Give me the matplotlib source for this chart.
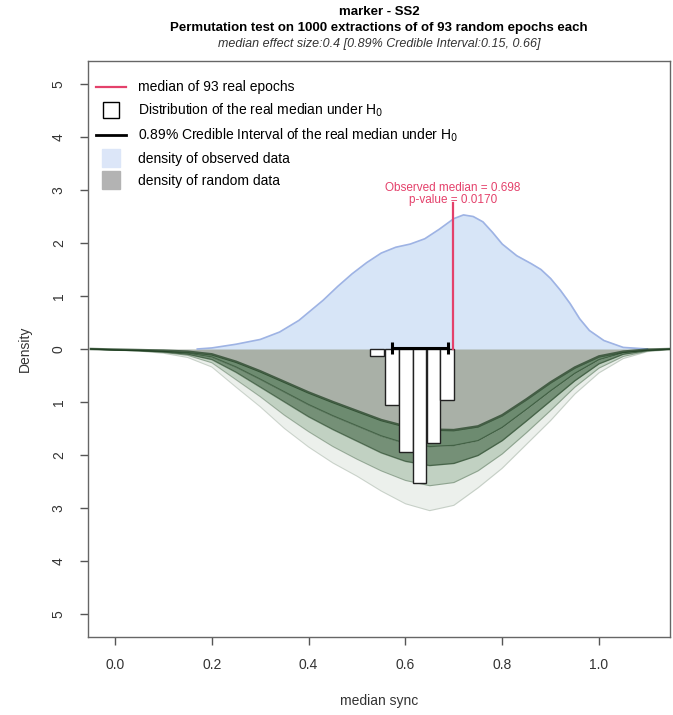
import numpy as np
import matplotlib
matplotlib.use("Agg")
import matplotlib.pyplot as plt
from matplotlib.lines import Line2D

plt.rcParams['font.family'] = ['Liberation Sans', 'DejaVu Sans']

# observed data density (upper half)
obs_x = [0.17, 0.20, 0.25, 0.30, 0.34, 0.38, 0.43, 0.46, 0.49, 0.52, 0.55, 0.58, 0.61,
         0.64, 0.67, 0.70, 0.72, 0.74, 0.76, 0.78, 0.80, 0.83, 0.86, 0.88, 0.90, 0.92,
         0.94, 0.96, 0.98, 1.01, 1.05, 1.10]
obs_dens = [0.00, 0.02, 0.09, 0.18, 0.32, 0.54, 0.92, 1.18, 1.42, 1.63, 1.81, 1.92, 1.98,
            2.08, 2.26, 2.46, 2.53, 2.50, 2.40, 2.20, 1.98, 1.76, 1.61, 1.50, 1.33, 1.11,
            0.86, 0.57, 0.35, 0.16, 0.03, 0.00]

# random data densities (drawn downwards), read as a band of curves
rand_x = [-0.05, 0.0, 0.05, 0.10, 0.15, 0.20, 0.25, 0.30, 0.35, 0.40, 0.45, 0.50, 0.55,
          0.60, 0.65, 0.70, 0.75, 0.80, 0.85, 0.90, 0.95, 1.00, 1.05, 1.10, 1.15]
rand_top = [0.00, 0.01, 0.02, 0.03, 0.05, 0.10, 0.24, 0.42, 0.62, 0.82, 1.00, 1.17, 1.34,
            1.46, 1.52, 1.53, 1.46, 1.25, 0.95, 0.63, 0.35, 0.14, 0.05, 0.01, 0.00]
rand_q1 = [0.00, 0.015, 0.025, 0.045, 0.08, 0.15, 0.34, 0.57, 0.81, 1.05, 1.26, 1.45, 1.64,
           1.78, 1.84, 1.82, 1.73, 1.48, 1.14, 0.79, 0.46, 0.20, 0.07, 0.02, 0.00]
rand_mid = [0.00, 0.02, 0.03, 0.055, 0.10, 0.20, 0.44, 0.72, 1.00, 1.28, 1.52, 1.74, 1.96,
            2.12, 2.20, 2.16, 2.01, 1.73, 1.36, 0.98, 0.60, 0.28, 0.10, 0.03, 0.00]
rand_q3 = [0.00, 0.02, 0.035, 0.065, 0.12, 0.26, 0.58, 0.90, 1.25, 1.56, 1.84, 2.08, 2.30,
           2.48, 2.58, 2.52, 2.30, 1.98, 1.58, 1.16, 0.72, 0.36, 0.14, 0.04, 0.00]
rand_bottom = [0.00, 0.025, 0.04, 0.08, 0.16, 0.34, 0.72, 1.09, 1.50, 1.85, 2.15, 2.40, 2.68,
               2.92, 3.05, 2.95, 2.62, 2.25, 1.80, 1.35, 0.85, 0.45, 0.18, 0.05, 0.01]

# distribution of the real median under H0 (histogram, drawn downwards)
hist_left = [0.527, 0.558, 0.587, 0.615, 0.644, 0.672]
hist_width = 0.0285
hist_dens = [0.13, 1.06, 1.94, 2.53, 1.78, 0.97]

ci_low, ci_high = 0.572, 0.689
obs_median = 0.698
p_value = 0.0170

red = '#e4416b'

fig = plt.figure(figsize=(6.73, 7.15), dpi=100)
ax = fig.add_axes([88 / 673, 78 / 715, 582 / 673, 576 / 715])

ax.fill_between(obs_x, 0, obs_dens, color='#d7e5f7', zorder=1)
ax.plot(obs_x, obs_dens, color='#9eb3e4', lw=1.2, zorder=2)

rx = np.array(rand_x)
top = -np.array(rand_top)
q1 = -np.array(rand_q1)
mid = -np.array(rand_mid)
q3 = -np.array(rand_q3)
bottom = -np.array(rand_bottom)

ax.fill_between(rx, 0, top, color='#a9b0a7', lw=0, zorder=1)
ax.fill_between(rx, top, q1, color='#2f5a33', alpha=0.7, lw=0, zorder=2)
ax.fill_between(rx, q1, mid, color='#2b552f', alpha=0.65, lw=0, zorder=2)
ax.fill_between(rx, mid, q3, color='#5d875f', alpha=0.38, lw=0, zorder=2)
ax.fill_between(rx, q3, bottom, color='#a9bfa9', alpha=0.22, lw=0, zorder=2)
for curve, a, w in [(top, 0.7, 1.8), (q1, 0.5, 1.0), (mid, 0.5, 1.0),
                    (q3, 0.3, 0.8), (bottom, 0.18, 0.8)]:
    ax.plot(rx, curve, color='#1a3a1c', lw=w, alpha=a, zorder=3)

ax.bar(hist_left, [-d for d in hist_dens], width=hist_width, align='edge',
       color='white', edgecolor='#222222', lw=1.0, zorder=4)

ax.plot([obs_median, obs_median], [0, 2.75], color=red, lw=1.6, zorder=5)
ax.plot([ci_low, ci_high], [0.02, 0.02], color='black', lw=2.2, zorder=6,
        marker='|', markersize=8, mew=2.2)

ax.text(obs_median, 3.03, f"Observed median = {obs_median:.3f}", color=red,
        ha='center', va='center', fontsize=8.5, zorder=6)
ax.text(obs_median, 2.82, f"p-value = {p_value:.4f}", color=red,
        ha='center', va='center', fontsize=8.5, zorder=6)

ax.set_xlim(-0.0558, 1.1467)
ax.set_ylim(-5.434, 5.434)
ax.set_xticks([0.0, 0.2, 0.4, 0.6, 0.8, 1.0])
ax.set_xticklabels(['0.0', '0.2', '0.4', '0.6', '0.8', '1.0'])
yt = [-5, -4, -3, -2, -1, 0, 1, 2, 3, 4, 5]
ax.set_yticks(yt)
ax.set_yticklabels([str(abs(v)) for v in yt], rotation=90, va='center')
ax.tick_params(axis='both', direction='out', length=6, width=1, color='#555555',
               labelcolor='#333333', labelsize=10)
ax.tick_params(axis='x', pad=9)
ax.tick_params(axis='y', pad=10)
for s in ax.spines.values():
    s.set_color('#666666')
    s.set_linewidth(1.0)

ax.set_xlabel('median sync', fontsize=10, color='#333333', labelpad=16)
ax.set_ylabel('Density', fontsize=10, color='#333333', labelpad=14)

handles = [
    Line2D([], [], color=red, lw=1.6),
    Line2D([], [], marker='s', ls='none', markersize=11, mfc='white', mec='black', mew=1.0),
    Line2D([], [], color='black', lw=2.0),
    Line2D([], [], marker='s', ls='none', markersize=13, mfc='#dce6f8', mec='#dce6f8'),
    Line2D([], [], marker='s', ls='none', markersize=13, mfc='#b3b3b3', mec='#b3b3b3'),
]
labels = [
    'median of 93 real epochs',
    'Distribution of the real median under H$_0$',
    '0.89% Credible Interval of the real median under H$_0$',
    'density of observed data',
    'density of random data',
]
ax.legend(handles, labels, loc='upper left', bbox_to_anchor=(0.004, 0.976),
          frameon=False, fontsize=10, handlelength=2.2, handletextpad=0.8,
          labelspacing=0.55, borderaxespad=0)

cx = (88 + 670) / 2 / 673
fig.text(cx, 1 - 12 / 715, 'marker - SS2', ha='center', va='center',
         fontsize=9.5, fontweight='bold')
fig.text(cx, 1 - 28 / 715, 'Permutation test on 1000 extractions of of 93 random epochs each',
         ha='center', va='center', fontsize=9.5, fontweight='bold')
fig.text(cx, 1 - 44 / 715, 'median effect size:0.4 [0.89% Credible Interval:0.15, 0.66]',
         ha='center', va='center', fontsize=9, style='italic', color='#333333')

fig.savefig('out.png', dpi=100)
